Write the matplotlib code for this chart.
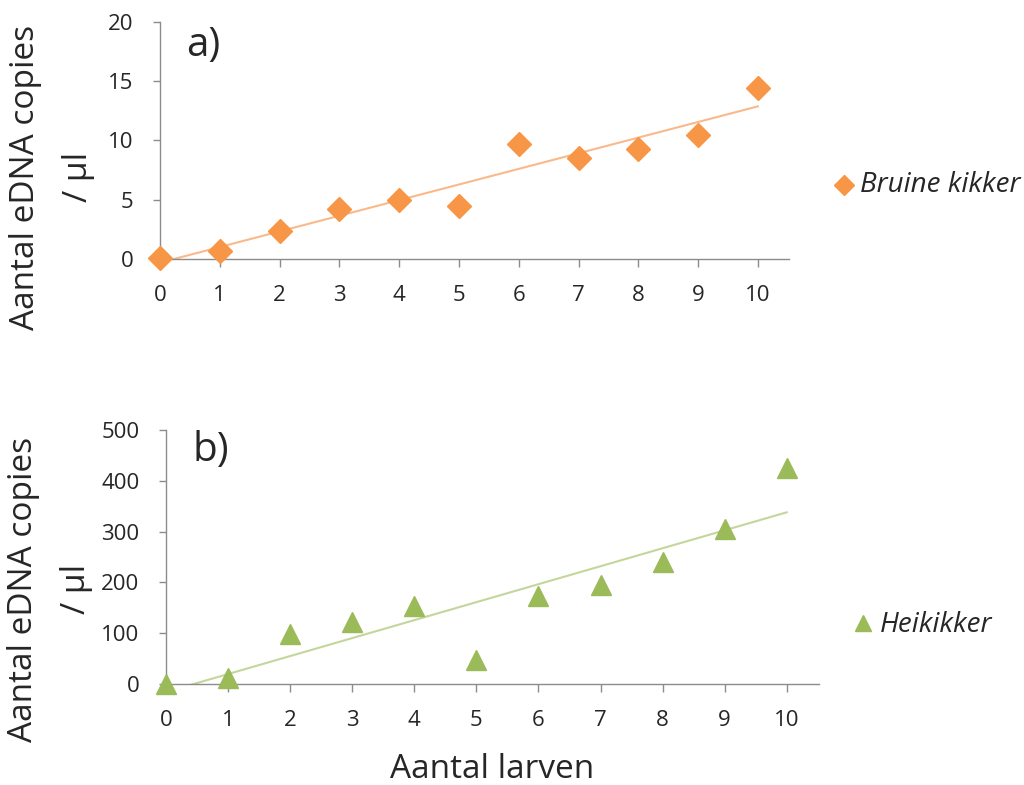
import numpy as np
import matplotlib
matplotlib.use("Agg")
import matplotlib.pyplot as plt
from matplotlib.lines import Line2D

plt.rcParams['font.family'] = ['Open Sans', 'DejaVu Sans']

larven = [0, 1, 2, 3, 4, 5, 6, 7, 8, 9, 10]
bruine = [0.05, 0.65, 2.35, 4.25, 5.0, 4.45, 9.7, 8.55, 9.3, 10.45, 14.4]
heikikker = [0, 11, 99, 122, 153, 48, 174, 195, 240, 305, 425]

orange = '#F79646'
orange_line = '#FAB98A'
green = '#9BBB59'
green_line = '#C3D69B'
spine_col = '#8C8C8C'
txt = '#262626'

fig = plt.figure(figsize=(10.24, 7.85), dpi=100)
W, H = 1024, 785

def mk_axes(l, r, t, b):
    return fig.add_axes([l / W, 1 - b / H, (r - l) / W, (b - t) / H])

ax1 = mk_axes(160, 789, 22, 259)
ax2 = mk_axes(166, 819, 430, 684)

def style(ax, ymax, ystep):
    ax.set_xlim(0, 10.52)
    ax.set_ylim(0, ymax)
    ax.set_xticks(larven)
    ax.set_yticks(np.arange(0, ymax + 1, ystep))
    for s in ['top', 'right']:
        ax.spines[s].set_visible(False)
    for s in ['left', 'bottom']:
        ax.spines[s].set_color(spine_col)
        ax.spines[s].set_linewidth(1.0)
    ax.tick_params(axis='x', direction='out', length=6, width=1, color=spine_col,
                   labelsize=16, labelcolor=txt, pad=13)
    ax.tick_params(axis='y', direction='out', length=5, width=1, color=spine_col,
                   labelsize=16, labelcolor=txt, pad=14)

style(ax1, 20, 5)
style(ax2, 500, 100)

x = np.array(larven, dtype=float)

# top panel
c1 = np.polyfit(x, bruine, 1)
ax1.plot([0, 10], np.polyval(c1, [0, 10]), color=orange_line, lw=1.5, zorder=2)
ax1.plot(larven, bruine, linestyle='none', marker='D', ms=12, color=orange,
         mec=orange, clip_on=False, zorder=3)
fig.text(186 / W, 1 - 56 / H, 'a)', fontsize=29, color=txt,
         va='baseline', ha='left')

# bottom panel
c2 = np.polyfit(x, heikikker, 1)
ax2.plot([0, 10], np.polyval(c2, [0, 10]), color=green_line, lw=1.5, zorder=2)
ax2.plot(larven, heikikker, linestyle='none', marker='^', ms=15, color=green,
         mec=green, clip_on=False, zorder=3)
fig.text(193 / W, 1 - 461 / H, 'b)', fontsize=29, color=txt,
         va='baseline', ha='left')

ylab = 'Aantal eDNA copies\n/ µl'
fig.text(52 / W, 1 - 177 / H, ylab, rotation=90, fontsize=24, color=txt,
         ha='center', va='center', multialignment='center', linespacing=1.8)
fig.text(50 / W, 1 - 589 / H, ylab, rotation=90, fontsize=24, color=txt,
         ha='center', va='center', multialignment='center', linespacing=1.8)
fig.text(492 / W, 1 - 770 / H, 'Aantal larven', fontsize=24, color=txt,
         ha='center', va='center')

# legends
fig.add_artist(Line2D([844 / W], [1 - 185 / H], transform=fig.transFigure,
                      linestyle='none', marker='D', ms=10, color=orange))
fig.text(860 / W, 1 - 185 / H, 'Bruine kikker', fontsize=20, style='italic',
         color=txt, ha='left', va='center')
fig.add_artist(Line2D([863 / W], [1 - 623 / H], transform=fig.transFigure,
                      linestyle='none', marker='^', ms=12, color=green))
fig.text(880 / W, 1 - 625 / H, 'Heikikker', fontsize=20, style='italic',
         color=txt, ha='left', va='center')

fig.savefig('out.png', dpi=100)
